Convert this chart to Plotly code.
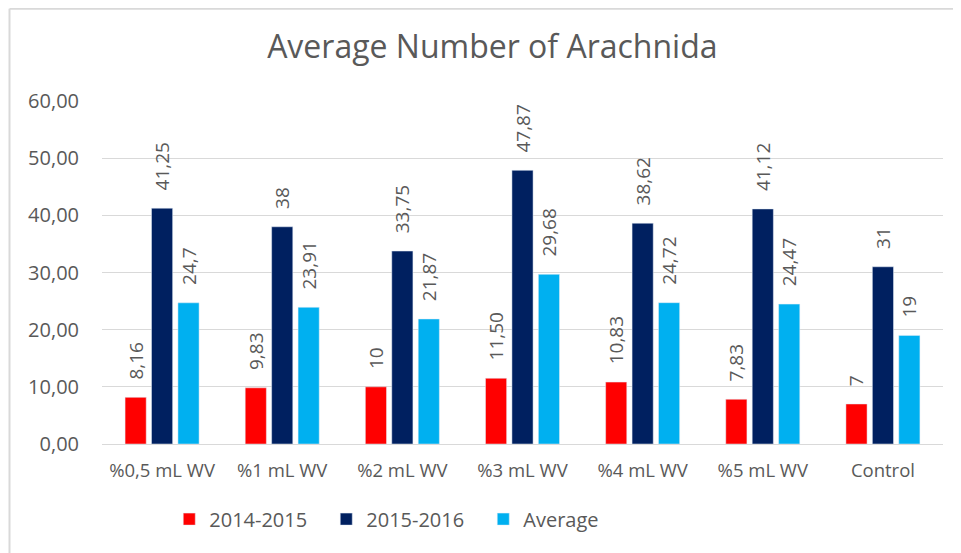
import plotly.graph_objects as go

categories = ['%0,5 mL WV', '%1 mL WV', '%2 mL WV', '%3 mL WV', '%4 mL WV', '%5 mL WV', 'Control']

y2014 = [8.16, 9.83, 10, 11.50, 10.83, 7.83, 7]
y2015 = [41.25, 38, 33.75, 47.87, 38.62, 41.12, 31]
avg = [24.7, 23.91, 21.87, 29.68, 24.72, 24.47, 19]

lbl2014 = ['8,16', '9,83', '10', '11,50', '10,83', '7,83', '7']
lbl2015 = ['41,25', '38', '33,75', '47,87', '38,62', '41,12', '31']
lblavg = ['24,7', '23,91', '21,87', '29,68', '24,72', '24,47', '19']

grey = '#595959'
font = 'Open Sans, sans-serif'
pad = '\u00a0' * 3  # excel leaves a gap between bar end and rotated label

fig = go.Figure()
for name, vals, txt, col in [('2014-2015', y2014, lbl2014, '#FF0000'),
                             ('2015-2016', y2015, lbl2015, '#002060'),
                             ('Average', avg, lblavg, '#00B0F0')]:
    fig.add_trace(go.Bar(x=categories, y=vals, name=name, marker_color=col,
                         text=[pad + t for t in txt], textposition='outside', textangle=-90,
                         textfont=dict(size=19, color=grey, family=font),
                         cliponaxis=False, hoverinfo='x+y'))

fig.update_layout(
    width=961, height=553,
    margin=dict(l=94, r=26, t=93, b=117),
    paper_bgcolor='white', plot_bgcolor='white',
    separators=',.',
    barmode='group', bargap=0.34, bargroupgap=0.2,
    title=dict(text='Average Number of Arachnida', xref='container', x=0.504, xanchor='center',
               y=0.929, yanchor='middle',
               font=dict(size=32, color=grey, family=font)),
    font=dict(family=font, color=grey),
    legend=dict(orientation='h', x=0.36, xanchor='center', y=-0.219, yanchor='middle',
                font=dict(size=20, color=grey, family=font),
                entrywidth=112, entrywidthmode='pixels', itemclick=False),
    showlegend=True,
    yaxis=dict(range=[0, 60], dtick=10, tickformat='.2f', showgrid=True,
               gridcolor='#D9D9D9', gridwidth=1, zeroline=False, showline=False,
               ticks='', ticklabelstandoff=22,
               tickfont=dict(size=20, color=grey, family=font)),
    xaxis=dict(showline=True, linecolor='#D9D9D9', linewidth=1, ticks='',
               ticklabelstandoff=10,
               tickfont=dict(size=18.5, color=grey, family=font)),
    shapes=[
        dict(type='line', xref='paper', yref='paper', x0=-0.11, x1=1.1, y0=1.269, y1=1.269,
             line=dict(color='#D9D9D9', width=2)),
        dict(type='line', xref='paper', yref='paper', x0=-0.11, x1=-0.11, y0=1.269, y1=-0.4,
             line=dict(color='#D9D9D9', width=2)),
    ],
)
fig.update_traces(constraintext='none')

fig.write_html('out.html')
